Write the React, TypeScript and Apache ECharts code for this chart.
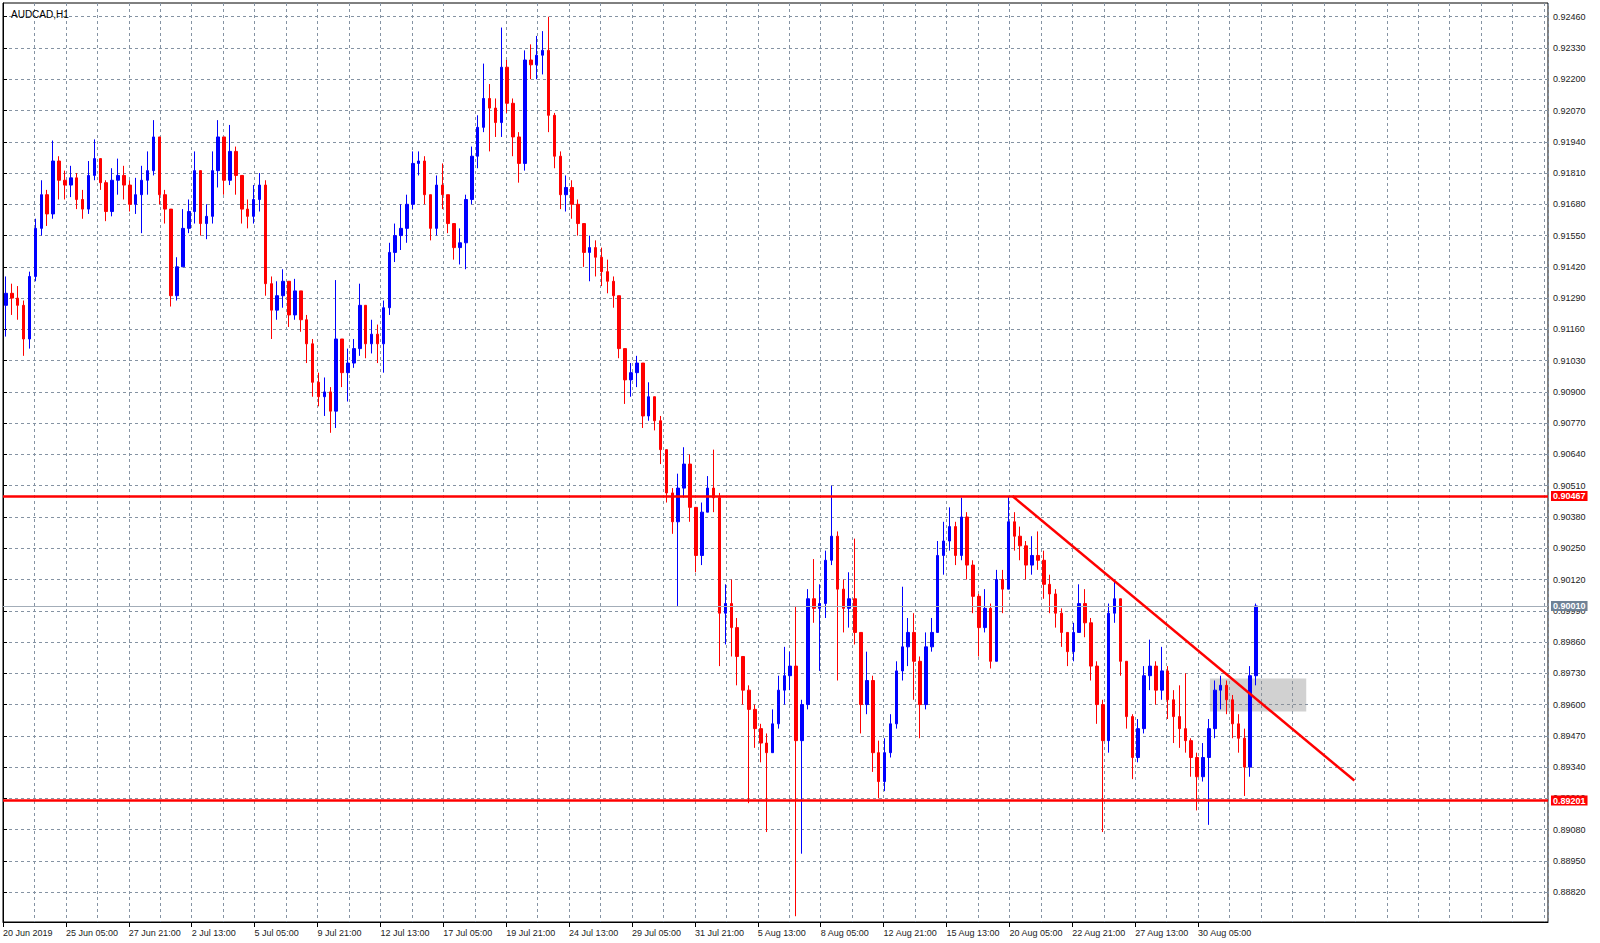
import React, { useEffect, useRef } from "react";
import * as echarts from "echarts";

const SYMBOL = "AUDCAD,H1";
const FONT = "'Liberation Sans', Arial, sans-serif";

// time axis: hours (H1 bars) from the first visible bar
const BAR_HOURS = 6; // each drawn candle aggregates 6 H1 bars
const X_MAX_HOURS = 1572;
const GRID_STEP_HOURS = 32;
const LABEL_STEP_HOURS = 64;
const dateLabels = [
  "20 Jun 2019", "25 Jun 05:00", "27 Jun 21:00", "2 Jul 13:00", "5 Jul 05:00",
  "9 Jul 21:00", "12 Jul 13:00", "17 Jul 05:00", "19 Jul 21:00", "24 Jul 13:00",
  "29 Jul 05:00", "31 Jul 21:00", "5 Aug 13:00", "8 Aug 05:00", "12 Aug 21:00",
  "15 Aug 13:00", "20 Aug 05:00", "22 Aug 21:00", "27 Aug 13:00", "30 Aug 05:00",
];

// price axis
const Y_MIN = 0.88696;
const Y_MAX = 0.92517;
const yTicks = [
  0.8882, 0.8895, 0.8908, 0.8921, 0.8934, 0.8947, 0.896, 0.8973, 0.8986, 0.8999,
  0.9012, 0.9025, 0.9038, 0.9051, 0.9064, 0.9077, 0.909, 0.9103, 0.9116, 0.9129,
  0.9142, 0.9155, 0.9168, 0.9181, 0.9194, 0.9207, 0.922, 0.9233, 0.9246,
];

const FIRST_OPEN = 0.9126;
const closes = [
  0.9131, 0.9129, 0.9126, 0.9112, 0.9138, 0.9158, 0.9172, 0.9164, 0.9186, 0.9178,
  0.9176, 0.9179, 0.917, 0.9166, 0.918, 0.9187, 0.9177, 0.9165, 0.9178, 0.918,
  0.9176, 0.9168, 0.9172, 0.9178, 0.9182, 0.9196, 0.9172, 0.9166, 0.913, 0.9142,
  0.9158, 0.9165, 0.9182, 0.916, 0.9163, 0.9182, 0.9196, 0.9178, 0.919, 0.918,
  0.9166, 0.9163, 0.917, 0.9176, 0.9135, 0.9124, 0.913, 0.9136, 0.9122, 0.9132,
  0.912, 0.911, 0.9094, 0.9088, 0.909, 0.9082, 0.9112, 0.9098, 0.9102, 0.9108,
  0.9126, 0.911, 0.9114, 0.911, 0.9125, 0.9148, 0.9155, 0.9158, 0.9168, 0.9185,
  0.9186, 0.9172, 0.9158, 0.9176, 0.9172, 0.916, 0.915, 0.9152, 0.917, 0.9188,
  0.92, 0.9212, 0.9208, 0.9202, 0.9225, 0.921, 0.9196, 0.9185, 0.9228, 0.9226,
  0.923, 0.9232, 0.9205, 0.9188, 0.9172, 0.9175, 0.9168, 0.916, 0.9148, 0.915,
  0.9146, 0.914, 0.9136, 0.913, 0.9108, 0.9095, 0.9098, 0.9102, 0.908, 0.9088,
  0.9078, 0.9066, 0.9048, 0.9036, 0.905, 0.906, 0.9042, 0.9022, 0.904, 0.905,
  0.9046, 0.8998, 0.9002, 0.8992, 0.898, 0.8966, 0.8958, 0.895, 0.8944, 0.894,
  0.8952, 0.8966, 0.8972, 0.8976, 0.8945, 0.896, 0.9004, 0.9, 0.9002, 0.902,
  0.903, 0.9008, 0.9, 0.9004, 0.899, 0.896, 0.897, 0.894, 0.8928, 0.894,
  0.8952, 0.8974, 0.8984, 0.899, 0.8978, 0.896, 0.8984, 0.899, 0.9022, 0.9028,
  0.9034, 0.9022, 0.9038, 0.9018, 0.9005, 0.8992, 0.9, 0.8978, 0.9012, 0.9008,
  0.9036, 0.903, 0.9026, 0.9018, 0.9022, 0.902, 0.901, 0.9006, 0.8998, 0.899,
  0.8982, 0.899, 0.9002, 0.8994, 0.8976, 0.896, 0.8945, 0.8998, 0.9004, 0.8978,
  0.8955, 0.8938, 0.895, 0.8972, 0.8976, 0.8966, 0.8974, 0.8962, 0.8955, 0.895,
  0.8945, 0.8938, 0.893, 0.8938, 0.895, 0.8966, 0.8968, 0.8962, 0.8952, 0.8946,
  0.8934, 0.8972, 0.9001,
];
const highs = [
  0.9138, 0.9135, 0.9134, 0.9128, 0.914, 0.9162, 0.9178, 0.9174, 0.91945, 0.9188,
  0.9182, 0.9184, 0.9181, 0.9174, 0.9186, 0.9195, 0.9187, 0.9178, 0.9183, 0.9187,
  0.9184, 0.9178, 0.9179, 0.9184, 0.919, 0.9203, 0.9196, 0.9174, 0.9166, 0.9146,
  0.9166, 0.917, 0.919, 0.918, 0.9168, 0.919, 0.9203, 0.9195, 0.9201, 0.9192,
  0.9172, 0.917, 0.9176, 0.9181, 0.9178, 0.9138, 0.9136, 0.9141, 0.9134, 0.9137,
  0.9132, 0.9122, 0.9112, 0.9098, 0.9096, 0.9092, 0.91365, 0.9112, 0.9108, 0.9112,
  0.9135, 0.9126, 0.912, 0.9118, 0.9128, 0.9152, 0.916, 0.9168, 0.9172, 0.919,
  0.919, 0.9188, 0.9172, 0.918, 0.9185, 0.9172, 0.916, 0.9158, 0.9172, 0.9192,
  0.9205, 0.92265, 0.9218, 0.9212, 0.92415, 0.9228, 0.9212, 0.9198, 0.9232, 0.92345,
  0.9238, 0.924, 0.9246, 0.9206, 0.919, 0.918, 0.9178, 0.917, 0.9158, 0.9155,
  0.9153, 0.915, 0.9145, 0.9138, 0.913, 0.9108, 0.9102, 0.9105, 0.9096, 0.9094,
  0.9088, 0.908, 0.9066, 0.905, 0.9056, 0.9067, 0.9064, 0.9042, 0.9044, 0.9055,
  0.9066, 0.9048, 0.901, 0.9012, 0.8996, 0.898, 0.8968, 0.896, 0.8952, 0.8948,
  0.8958, 0.8972, 0.8984, 0.8982, 0.9001, 0.8962, 0.9008, 0.90205, 0.901, 0.9024,
  0.9051, 0.9032, 0.9012, 0.9015, 0.9029, 0.899, 0.8982, 0.8972, 0.8945, 0.8946,
  0.8956, 0.8978, 0.9009, 0.8996, 0.8998, 0.898, 0.899, 0.8996, 0.9028, 0.9036,
  0.9042, 0.9036, 0.9046, 0.904, 0.902, 0.9006, 0.9008, 0.9002, 0.9016, 0.9016,
  0.90467, 0.904, 0.9034, 0.9028, 0.903, 0.9032, 0.9024, 0.9014, 0.9008, 0.9,
  0.899, 0.8994, 0.901, 0.9008, 0.8996, 0.8978, 0.8962, 0.9002, 0.9012, 0.9004,
  0.8974, 0.8956, 0.8954, 0.8976, 0.8987, 0.8978, 0.8984, 0.8976, 0.8966, 0.8968,
  0.8973, 0.8946, 0.894, 0.8944, 0.8954, 0.897, 0.8972, 0.897, 0.8964, 0.8956,
  0.895, 0.8976, 0.9002,
];
const lows = [
  0.9113, 0.9122, 0.912, 0.9105, 0.9108, 0.9136, 0.9155, 0.9159, 0.9162, 0.917,
  0.917, 0.9171, 0.9166, 0.9162, 0.9164, 0.9178, 0.9174, 0.9161, 0.9163, 0.9172,
  0.917, 0.9165, 0.9164, 0.9156, 0.9172, 0.918, 0.9168, 0.916, 0.91255, 0.9128,
  0.9153, 0.9156, 0.916, 0.9155, 0.91535, 0.916, 0.9175, 0.9172, 0.9176, 0.9172,
  0.916, 0.9158, 0.916, 0.9165, 0.913, 0.9112, 0.912, 0.9125, 0.9117, 0.912,
  0.9115, 0.9102, 0.9088, 0.9084, 0.908, 0.9073, 0.9075, 0.9092, 0.9086, 0.91,
  0.9105, 0.9104, 0.9106, 0.9102, 0.9098, 0.9122, 0.9144, 0.9149, 0.9152, 0.9166,
  0.918, 0.9168, 0.9153, 0.9155, 0.9166, 0.9156, 0.9145, 0.9143, 0.9141, 0.9168,
  0.9183, 0.9198, 0.919, 0.9196, 0.9196, 0.9206, 0.9188, 0.9177, 0.9182, 0.922,
  0.922, 0.9222, 0.9198, 0.9183, 0.9166, 0.9165, 0.9162, 0.9155, 0.9142, 0.9136,
  0.9138, 0.9134, 0.9131, 0.9125, 0.9104, 0.9085, 0.9088, 0.9092, 0.9075, 0.9078,
  0.9074, 0.906, 0.9044, 0.9031, 0.9001, 0.9046, 0.9036, 0.9015, 0.9018, 0.904,
  0.904, 0.8976, 0.8985, 0.898, 0.8968, 0.896, 0.8919, 0.8942, 0.8936, 0.8907,
  0.894, 0.895, 0.896, 0.8966, 0.8872, 0.8898, 0.8958, 0.8994, 0.8974, 0.8996,
  0.9018, 0.897, 0.899, 0.8992, 0.8985, 0.8948, 0.8956, 0.8932, 0.8921, 0.8924,
  0.8938, 0.895, 0.897, 0.8976, 0.8962, 0.8946, 0.8958, 0.8982, 0.899, 0.9014,
  0.9024, 0.9018, 0.902, 0.9012, 0.8998, 0.898, 0.899, 0.8975, 0.8978, 0.8998,
  0.901, 0.9024, 0.902, 0.9012, 0.9014, 0.9016, 0.9004, 0.8998, 0.8992, 0.8984,
  0.8976, 0.8978, 0.899, 0.8988, 0.897, 0.8952, 0.8907, 0.894, 0.8994, 0.8972,
  0.895, 0.8929, 0.8936, 0.8948, 0.8966, 0.896, 0.8962, 0.8954, 0.8944, 0.8942,
  0.894, 0.893, 0.8916, 0.8928, 0.891, 0.8946, 0.8958, 0.8956, 0.8946, 0.894,
  0.8922, 0.893, 0.8968,
];

// drawn objects
const resistance = 0.90467;
const support = 0.89201;
const lastPrice = 0.9001;
const trendStart = [1027, 0.90467];
const trendEnd = [1375, 0.89284];
const boxHours = [1228, 1326];
const boxPrices = [0.89571, 0.89708];

const GRID_COLOR = "#8593a3";
const TEXT_COLOR = "#222";

export default function App() {
  const ref = useRef<HTMLDivElement>(null);

  useEffect(() => {
    if (!ref.current) return;
    const chart = echarts.init(ref.current, null, { renderer: "svg" });

    const candles = closes.map((c, i) => {
      const o = i === 0 ? FIRST_OPEN : closes[i - 1];
      const h = Math.max(highs[i], o, c);
      const l = Math.min(lows[i], o, c);
      return [i * BAR_HOURS + BAR_HOURS / 2, o, c, l, h];
    });
    const labelHours = dateLabels.map((_, i) => i * LABEL_STEP_HOURS);

    const priceLabel = (bg: string) => ({
      show: true,
      position: "end",
      distance: 3,
      formatter: (p: any) => Number(p.value).toFixed(5),
      color: "#fff",
      fontWeight: "bold",
      fontSize: 9,
      fontFamily: FONT,
      backgroundColor: bg,
      padding: [1, 2, 0, 2],
    });

    chart.setOption({
      animation: false,
      backgroundColor: "#fff",
      title: {
        text: SYMBOL,
        left: 6,
        top: 4,
        textStyle: { fontSize: 10, fontWeight: "normal", color: "#000", fontFamily: FONT },
      },
      grid: {
        left: 3,
        top: 3,
        right: 52,
        bottom: 21,
        show: true,
        borderColor: "#000",
        borderWidth: 1,
        backgroundColor: "#fff",
      },
      xAxis: [
        {
          type: "value",
          min: 0,
          max: X_MAX_HOURS,
          interval: GRID_STEP_HOURS,
          axisLine: { show: false },
          axisTick: { show: false },
          axisLabel: { show: false },
          splitLine: { show: true, lineStyle: { color: GRID_COLOR, type: [3, 3], width: 1 } },
        },
        {
          type: "value",
          min: 0,
          max: X_MAX_HOURS,
          position: "bottom",
          axisLine: { show: true, lineStyle: { color: "#000", width: 1 } },
          axisTick: { show: true, length: 5, customValues: labelHours, lineStyle: { color: "#000" } },
          axisLabel: {
            show: true,
            customValues: labelHours,
            formatter: (v: number) => dateLabels[Math.round(v / LABEL_STEP_HOURS)] ?? "",
            align: "left",
            margin: 6,
            fontSize: 9,
            color: TEXT_COLOR,
            fontFamily: FONT,
          },
          splitLine: { show: false },
        },
      ],
      yAxis: {
        type: "value",
        position: "right",
        min: Y_MIN,
        max: Y_MAX,
        scale: true,
        axisLine: { show: true, lineStyle: { color: "#000", width: 1 } },
        axisTick: { show: true, length: 4, customValues: yTicks, lineStyle: { color: "#000" } },
        axisLabel: {
          show: true,
          customValues: yTicks,
          formatter: (v: number) => v.toFixed(5),
          margin: 5,
          fontSize: 9,
          color: TEXT_COLOR,
          fontFamily: FONT,
        },
        splitLine: { show: true, lineStyle: { color: GRID_COLOR, type: [3, 3], width: 1 } },
      },
      series: [
        {
          type: "candlestick",
          xAxisIndex: 0,
          yAxisIndex: 0,
          data: candles,
          barWidth: 3,
          itemStyle: {
            color: "#0000ff",
            color0: "#ff0000",
            borderColor: "#0000ff",
            borderColor0: "#ff0000",
            borderWidth: 1,
          },
          markArea: {
            silent: true,
            itemStyle: { color: "rgba(140,140,140,0.4)" },
            data: [[{ coord: [boxHours[0], boxPrices[1]] }, { coord: [boxHours[1], boxPrices[0]] }]],
          },
          markLine: {
            silent: true,
            precision: 5,
            symbol: ["none", "none"],
            data: [
              { yAxis: resistance, lineStyle: { color: "#ff0000", width: 2.5, type: "solid" }, label: priceLabel("#ff0000") },
              { yAxis: support, lineStyle: { color: "#ff0000", width: 2.5, type: "solid" }, label: priceLabel("#ff0000") },
              { yAxis: lastPrice, lineStyle: { color: "#a3adb8", width: 1, type: "solid" }, label: priceLabel("#6f8296") },
              [
                { coord: trendStart, lineStyle: { color: "#ff0000", width: 2.5, type: "solid" }, label: { show: false } },
                { coord: trendEnd },
              ],
            ],
          },
        },
      ],
    });

    return () => chart.dispose();
  }, []);

  return (
    <div
      ref={ref}
      style={{ position: "absolute", left: 0, top: 0, width: 1600, height: 943 }}
    />
  );
}
